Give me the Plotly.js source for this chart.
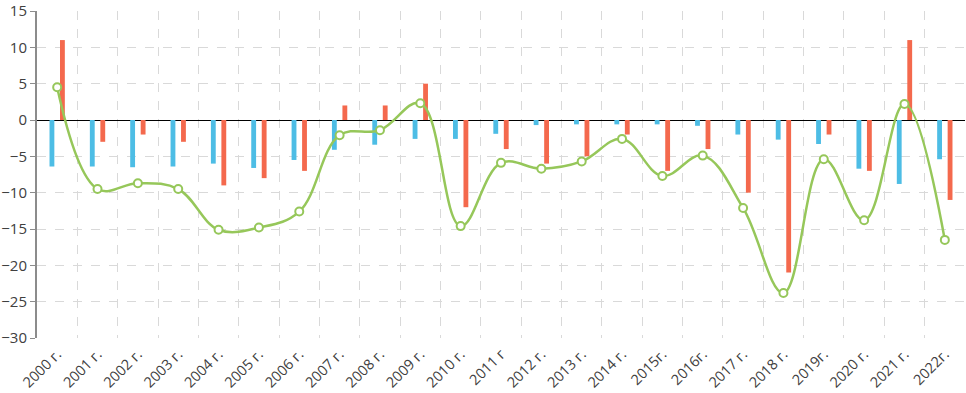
<!DOCTYPE html>
<html>
<head>
<meta charset="utf-8">
<script src="https://cdn.plot.ly/plotly-3.0.1.min.js"></script>
<style>
  html, body { margin: 0; padding: 0; background: #fff; }
  #chart { width: 966px; height: 393px; }
</style>
</head>
<body>
<div id="chart"></div>
<script>
var years = ['2000 г.', '2001 г.', '2002 г.', '2003 г.', '2004 г.', '2005 г.', '2006 г.', '2007 г.',
    '2008 г.', '2009 г.', '2010 г.', '2011 г', '2012 г.', '2013 г.', '2014 г.', '2015г.',
    '2016г.', '2017 г.', '2018 г.', '2019г.', '2020 г.', '2021 г.', '2022г.'];

var blueValues = [-6.4, -6.4, -6.5, -6.4, -6.0, -6.6, -5.5, -4.1, -3.4, -2.6, -2.6, -1.9,
    -0.7, -0.6, -0.6, -0.6, -0.8, -2.0, -2.7, -3.3, -6.7, -8.8, -5.4];

var redValues = [11, -3, -2, -3, -9, -8, -7, 2, 2, 5, -12, -4,
    -6, -5, -2, -7, -4, -10, -21, -2, -7, 11, -11];

var lineValues = [4.5, -9.5, -8.7, -9.5, -15.1, -14.8, -12.6, -2.1, -1.4, 2.3, -14.6, -5.9,
    -6.7, -5.7, -2.6, -7.7, -4.9, -12.1, -23.8, -5.4, -13.8, 2.2, -16.5];

var yTicks = [-30, -25, -20, -15, -10, -5, 0, 5, 10, 15];

// bars
var blue = {
    x: years,
    y: blueValues,
    type: 'bar',
    width: 0.12,
    offset: -0.19,
    marker: {color: '#4DBDE5'},
    hoverinfo: 'y'
};

var red = {
    x: years,
    y: redValues,
    type: 'bar',
    width: 0.12,
    offset: 0.07,
    marker: {color: '#F4694D'},
    hoverinfo: 'y'
};

// smoothed line
var line = {
    x: years,
    y: lineValues,
    type: 'scatter',
    mode: 'lines+markers',
    line: {color: '#96C75A', width: 2.5, shape: 'spline', smoothing: 1.1},
    marker: {size: 8, color: '#fff', line: {color: '#96C75A', width: 2}},
    hoverinfo: 'y'
};

var data = [blue, red, line];

var layout = {
    width: 966,
    height: 393,
    showlegend: false,
    barmode: 'overlay',
    plot_bgcolor: '#fff',
    paper_bgcolor: '#fff',
    font: {family: 'Open Sans, sans-serif', size: 15, color: '#404040'},
    margin: {l: 37, r: 1, t: 11, b: 55, pad: 0},
    xaxis: {
        type: 'category',
        range: [-0.5, 22.5],
        tickangle: -45,
        tickson: 'boundaries',
        ticks: '',
        ticklabelstandoff: 4,
        showgrid: true,
        gridcolor: '#d9d9d9',
        griddash: 'dash',
        gridwidth: 1,
        zeroline: false,
        showline: false,
        tickfont: {size: 14.5, color: '#404040'}
    },
    xaxis2: {
        type: 'category',
        matches: 'x',
        overlaying: 'x',
        anchor: 'free',
        position: 0.6667,
        tickson: 'boundaries',
        ticks: 'outside',
        ticklen: 4,
        tickcolor: '#000',
        showticklabels: false,
        showgrid: false,
        showline: false,
        zeroline: false
    },
    yaxis: {
        range: [-30, 15],
        tickvals: yTicks,
        ticks: 'outside',
        ticklen: 5,
        tickcolor: '#8c8c8c',
        ticklabeloverflow: 'allow',
        showline: true,
        linecolor: '#8c8c8c',
        linewidth: 2,
        showgrid: true,
        gridcolor: '#d9d9d9',
        griddash: 'dash',
        zeroline: true,
        zerolinecolor: '#000',
        zerolinewidth: 1,
        tickfont: {size: 15, color: '#404040'}
    }
};

var config = {responsive: false, displayModeBar: false};

Plotly.newPlot('chart', data, layout, config);
</script>
</body>
</html>
